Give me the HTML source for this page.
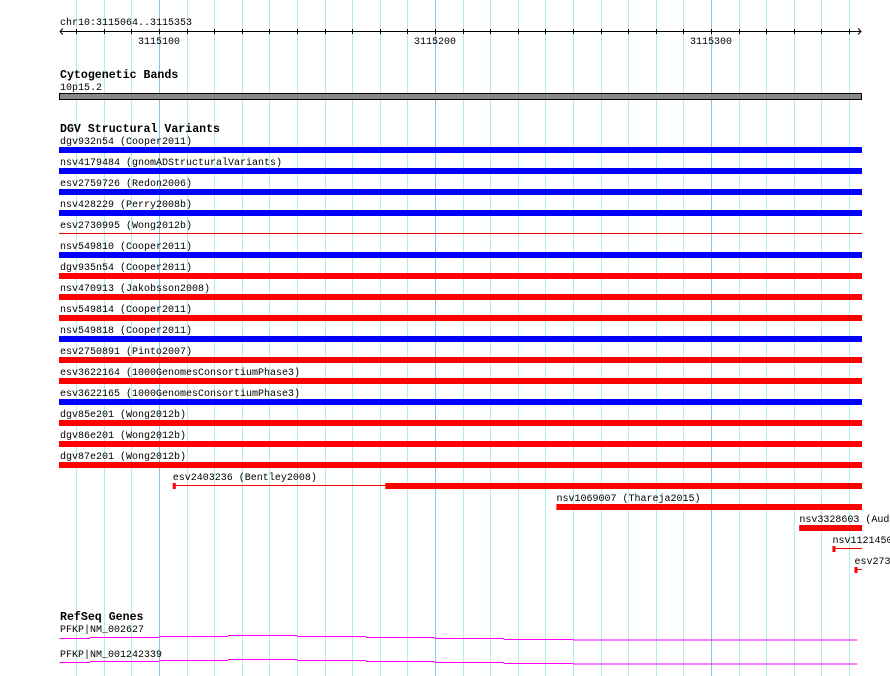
<!DOCTYPE html>
<html><head><meta charset="utf-8"><style>
html,body{margin:0;padding:0;background:#fff;width:890px;height:676px;overflow:hidden}
svg text{font-family:"Liberation Mono","DejaVu Sans Mono",monospace;font-size:10px;fill:#000}
svg text.h{font-weight:bold;font-size:11.6px}
</style></head><body>
<svg id="c" width="890" height="676" xmlns="http://www.w3.org/2000/svg"></svg>
<script>
const startBp = 3115064, endBp = 3115353;
const majorTicks = [3115100, 3115200, 3115300];
const rowNames = ["dgv932n54 (Cooper2011)","nsv4179484 (gnomADStructuralVariants)","esv2759726 (Redon2006)","nsv428229 (Perry2008b)","esv2730995 (Wong2012b)","nsv549810 (Cooper2011)","dgv935n54 (Cooper2011)","nsv470913 (Jakobsson2008)","nsv549814 (Cooper2011)","nsv549818 (Cooper2011)","esv2750891 (Pinto2007)","esv3622164 (1000GenomesConsortiumPhase3)","esv3622165 (1000GenomesConsortiumPhase3)","dgv85e201 (Wong2012b)","dgv86e201 (Wong2012b)","dgv87e201 (Wong2012b)"];
const rowColors = ["blue","blue","blue","blue","red-thin","blue","red","red","red","blue","red","red","blue","red","red","red"];
const partNames = ["esv2403236 (Bentley2008)","nsv1069007 (Thareja2015)","nsv3328603 (Audano2019)","nsv1121450 (Coe2014)","esv2731095 (Wong2012b)"];
const partStart = [3115105, 3115244, 3115332, 3115344, 3115352];
const partThickStart = [3115182, 3115244, 3115332, 3115360, 3115360];
const partBlockEnd = [3115106, 3115244, 3115332, 3115345, 3115353];
const geneNames = ["PFKP|NM_002627","PFKP|NM_001242339"];
const geneStepBp = [3115064, 3115075, 3115100, 3115125, 3115150, 3115175, 3115200, 3115225, 3115250, 3115275, 3115353];
const geneStepOffset = [3, 2, 1, 0, 1, 2, 3, 4, 4.5, 4.5, 4.5];

const svg = document.getElementById('c');
const NS = "http://www.w3.org/2000/svg";
const X0 = 159, PX = 2.76, XMAX = 862;
function x(bp){ return Math.min(XMAX, X0 + (bp - 3115100) * PX); }
function mk(tag, attrs, txt){ const e = document.createElementNS(NS, tag); for (const k in attrs) e.setAttribute(k, attrs[k]); if (txt !== undefined) e.textContent = txt; svg.appendChild(e); return e; }

// grid
for (let bp = 3115070; bp <= endBp; bp += 10) {
  const gx = Math.round(x(bp)) + 0.5;
  const major = bp % 100 === 0;
  const g = mk('line', {x1: gx, x2: gx, y1: 0, y2: 676, stroke: major ? '#8ec4e2' : '#b4eaf0', 'stroke-width': 1});
  
  
}
// ruler
let t = mk('text', {x: 60, y: 25}, 'chr10:' + startBp + '..' + endBp);


let r = mk('line', {x1: 60, x2: 861, y1: 31.5, y2: 31.5, stroke: '#000'});


mk('path', {d: 'M63 28.5 L60 31.5 L63 34.5 M858 28.5 L861 31.5 L858 34.5', stroke: '#000', fill: 'none'});
for (let bp = 3115070; bp <= 3115350; bp += 10) {
  const tx = Math.round(x(bp)) + 0.5;
  const tk = mk('line', {x1: tx, x2: tx, y1: 29, y2: 34, stroke: '#000'});
  
  
}
majorTicks.forEach(bp => {
  const l = mk('text', {x: x(bp), y: 44, 'text-anchor': 'middle'}, String(bp));
  
  
});
// cytobands
t = mk('text', {x: 60, y: 78, class: 'h'}, 'Cytogenetic Bands');


t = mk('text', {x: 60, y: 90}, '10p15.2');


let cb = mk('rect', {x: 59.5, y: 93.5, width: 802, height: 6, fill: '#888', stroke: '#000'});


// DGV
t = mk('text', {x: 60, y: 132, class: 'h'}, 'DGV Structural Variants');


rowNames.forEach((n, i) => {
  const ly = 144 + 21 * i, by = 147 + 21 * i;
  const lb = mk('text', {x: 60, y: ly}, n);
  
  
  const c = rowColors[i];
  let b;
  if (c === 'red-thin') b = mk('rect', {x: 59, y: by + 2, width: XMAX - 59, height: 1, fill: '#e00'});
  else b = mk('rect', {x: 59, y: by, width: XMAX - 59, height: 6, fill: c === 'blue' ? '#00f' : '#f00'});
  
  
});
partNames.forEach((n, i) => {
  const j = rowNames.length + i;
  const ly = 144 + 21 * j, by = 147 + 21 * j;
  const sx = x(partStart[i]);
  const lb = mk('text', {x: sx, y: ly}, n);
  
  
  const ln = mk('rect', {x: sx, y: by + 2, width: Math.max(0, XMAX - sx), height: 1, fill: '#f00'});
  
  
  const bk = mk('rect', {x: sx, y: by, width: Math.max(3, x(partBlockEnd[i]) - sx), height: 6, fill: '#f00'});
  
  
  const ts = x(partThickStart[i]);
  if (ts < XMAX) {
    const th = mk('rect', {x: ts, y: by, width: XMAX - ts, height: 6, fill: '#f00'});
    
    
  }
});
// RefSeq
t = mk('text', {x: 60, y: 620, class: 'h'}, 'RefSeq Genes');


geneNames.forEach((n, i) => {
  const lb = mk('text', {x: 60, y: 632 + 25 * i}, n);
  
  
  const base = 635.5 + 24 * i;
  let d = '';
  for (let k = 0; k < geneStepBp.length - 1; k++) {
    const yy = base + geneStepOffset[k];
    d += 'M' + x(geneStepBp[k]) + ' ' + yy + ' L' + x(geneStepBp[k + 1]) + ' ' + yy + ' ';
  }
  const p = mk('path', {d: d, stroke: '#f0f', 'stroke-width': 1, fill: 'none'});
  
  
});
</script>
</body></html>
